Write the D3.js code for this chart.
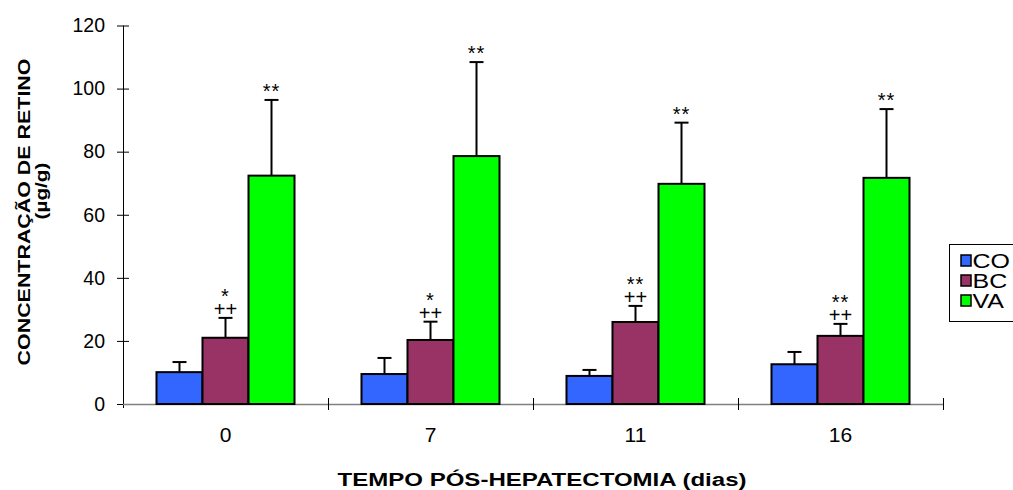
<!DOCTYPE html>
<html>
<head>
<meta charset="utf-8">
<script src="https://cdn.jsdelivr.net/npm/d3@7"></script>
<style>
  html, body { margin: 0; padding: 0; background: #fff; }
  svg { display: block; }
  text { font-family: Arial, "Liberation Sans", sans-serif; fill: #000; }
</style>
</head>
<body>
<svg id="chart" width="1013" height="490"></svg>
<script>
// ---- data ----
const categories = ["0", "7", "11", "16"];
const seriesNames = ["CO", "BC", "VA"];
const coValues = [10.1, 9.5, 8.9, 12.6];
const coErrors = [3.2, 5.1, 1.9, 3.9];
const bcValues = [21.0, 20.3, 26.0, 21.6];
const bcErrors = [6.3, 5.8, 5.1, 3.8];
const vaValues = [72.4, 78.6, 69.8, 71.7];
const vaErrors = [24.0, 29.8, 19.4, 21.8];
const bcMarksTop = ["*", "*", "**", "**"];
const bcMarksBottom = ["++", "++", "++", "++"];
const vaMarks = ["**", "**", "**", "**"];
const yTicks = [0, 20, 40, 60, 80, 100, 120];
const colors = ["#3366FF", "#993366", "#00FF00"];

(function () {
const values = [coValues, bcValues, vaValues];
const errors = [coErrors, bcErrors, vaErrors];

const svg = d3.select("#chart");
const mLeft = 123, mRight = 943, mTop = 25.5, mBottom = 404;

const y = d3.scaleLinear().domain([0, 120]).range([mBottom, mTop]);
const x0 = d3.scaleBand().domain(categories).range([mLeft, mRight]).paddingInner(0).paddingOuter(0);
const x1 = d3.scaleBand().domain(seriesNames).range([0, x0.bandwidth()]).paddingInner(0).paddingOuter(0.728);
const color = d3.scaleOrdinal().domain(seriesNames).range(colors);

// y axis
const yAxis = svg.append("g").attr("transform", `translate(${mLeft},0)`)
  .call(d3.axisLeft(y).tickValues(yTicks).tickSize(6).tickPadding(12).tickSizeOuter(0));
yAxis.select(".domain").attr("stroke", "#000").attr("d", `M0.5,${mTop}V${mBottom + 4}`);
yAxis.selectAll(".tick line").attr("x1", -6).attr("x2", 6).attr("stroke", "#000");
yAxis.selectAll(".tick text").attr("font-size", 19.5).attr("font-family", "Arial, 'Liberation Sans', sans-serif").attr("x", -18);

// x axis baseline
svg.append("line").attr("x1", mLeft).attr("x2", mRight).attr("y1", mBottom + 0.5).attr("y2", mBottom + 0.5)
  .attr("stroke", "#808080").attr("stroke-width", 1.5);
// category boundary ticks
const boundaries = categories.map(c => x0(c) + x0.bandwidth());
svg.selectAll(".xtick").data(boundaries).enter().append("line")
  .attr("x1", d => Math.round(d) + 0.5).attr("x2", d => Math.round(d) + 0.5)
  .attr("y1", mBottom - 6).attr("y2", mBottom + 6).attr("stroke", "#000");
svg.selectAll(".xlabel").data(categories).enter().append("text")
  .attr("transform", d => `translate(${x0(d) + x0.bandwidth() / 2},${mBottom + 38}) scale(1.08,1)`)
  .attr("text-anchor", "middle").attr("font-size", 19.5).text(d => d);

// bars
const groups = svg.selectAll(".grp").data(categories).enter().append("g")
  .attr("transform", d => `translate(${x0(d)},0)`);
groups.each(function(cat, ci) {
  const g = d3.select(this);
  seriesNames.forEach((s, si) => {
    const v = values[si][ci], e = errors[si][ci];
    const bx = x1(s), bw = x1.bandwidth();
    const cx = bx + bw / 2;
    g.append("line").attr("x1", cx).attr("x2", cx).attr("y1", y(v)).attr("y2", y(v + e))
      .attr("stroke", "#000").attr("stroke-width", 2);
    g.append("line").attr("x1", cx - 7).attr("x2", cx + 7).attr("y1", y(v + e)).attr("y2", y(v + e))
      .attr("stroke", "#000").attr("stroke-width", 2);
    g.append("rect").attr("x", bx).attr("y", y(v)).attr("width", bw).attr("height", y(0) - y(v))
      .attr("fill", color(s)).attr("stroke", "#000").attr("stroke-width", 2);
  });
  const bcx = x1("BC") + x1.bandwidth() / 2;
  const bcCap = y(bcValues[ci] + bcErrors[ci]);
  g.append("text").attr("x", bcx).attr("y", bcCap - 2).attr("text-anchor", "middle")
    .attr("font-size", 20).text(bcMarksBottom[ci]);
  g.append("text").attr("x", bcx).attr("y", bcCap - 15).attr("text-anchor", "middle")
    .attr("font-size", 20).attr("letter-spacing", 1).text(bcMarksTop[ci]);
  const vax = x1("VA") + x1.bandwidth() / 2;
  const vaCap = y(vaValues[ci] + vaErrors[ci]);
  g.append("text").attr("x", vax).attr("y", vaCap - 2).attr("text-anchor", "middle")
    .attr("font-size", 20).attr("letter-spacing", 1).text(vaMarks[ci]);
});

// axis titles
svg.append("text").attr("transform", "translate(30,212) rotate(-90) scale(1.26,1)").attr("text-anchor", "middle")
  .attr("font-size", 17).attr("font-weight", "bold").text("CONCENTRAÇÃO DE RETINO");
svg.append("text").attr("transform", "translate(47,191) rotate(-90) scale(1.22,1)").attr("text-anchor", "middle")
  .attr("font-size", 17).attr("font-weight", "bold").text("(µg/g)");
svg.append("text").attr("transform", "translate(542,486) scale(1.3,1)").attr("text-anchor", "middle")
  .attr("font-size", 18.5).attr("font-weight", "bold").text("TEMPO PÓS-HEPATECTOMIA (dias)");

// legend
const legend = svg.append("g").attr("transform", "translate(949,244)");
legend.append("rect").attr("x", 0.5).attr("y", 0.5).attr("width", 80).attr("height", 77)
  .attr("fill", "#fff").attr("stroke", "#000").attr("stroke-width", 1);
seriesNames.forEach((s, i) => {
  legend.append("rect").attr("x", 12).attr("y", 11 + i * 20).attr("width", 10).attr("height", 11)
    .attr("fill", color(s)).attr("stroke", "#000").attr("stroke-width", 1.5);
  legend.append("text").attr("transform", `translate(23.5,${24 + i * 20}) scale(1.28,1)`)
    .attr("font-size", 19.5).text(s);
});
})();
</script>
</body>
</html>
